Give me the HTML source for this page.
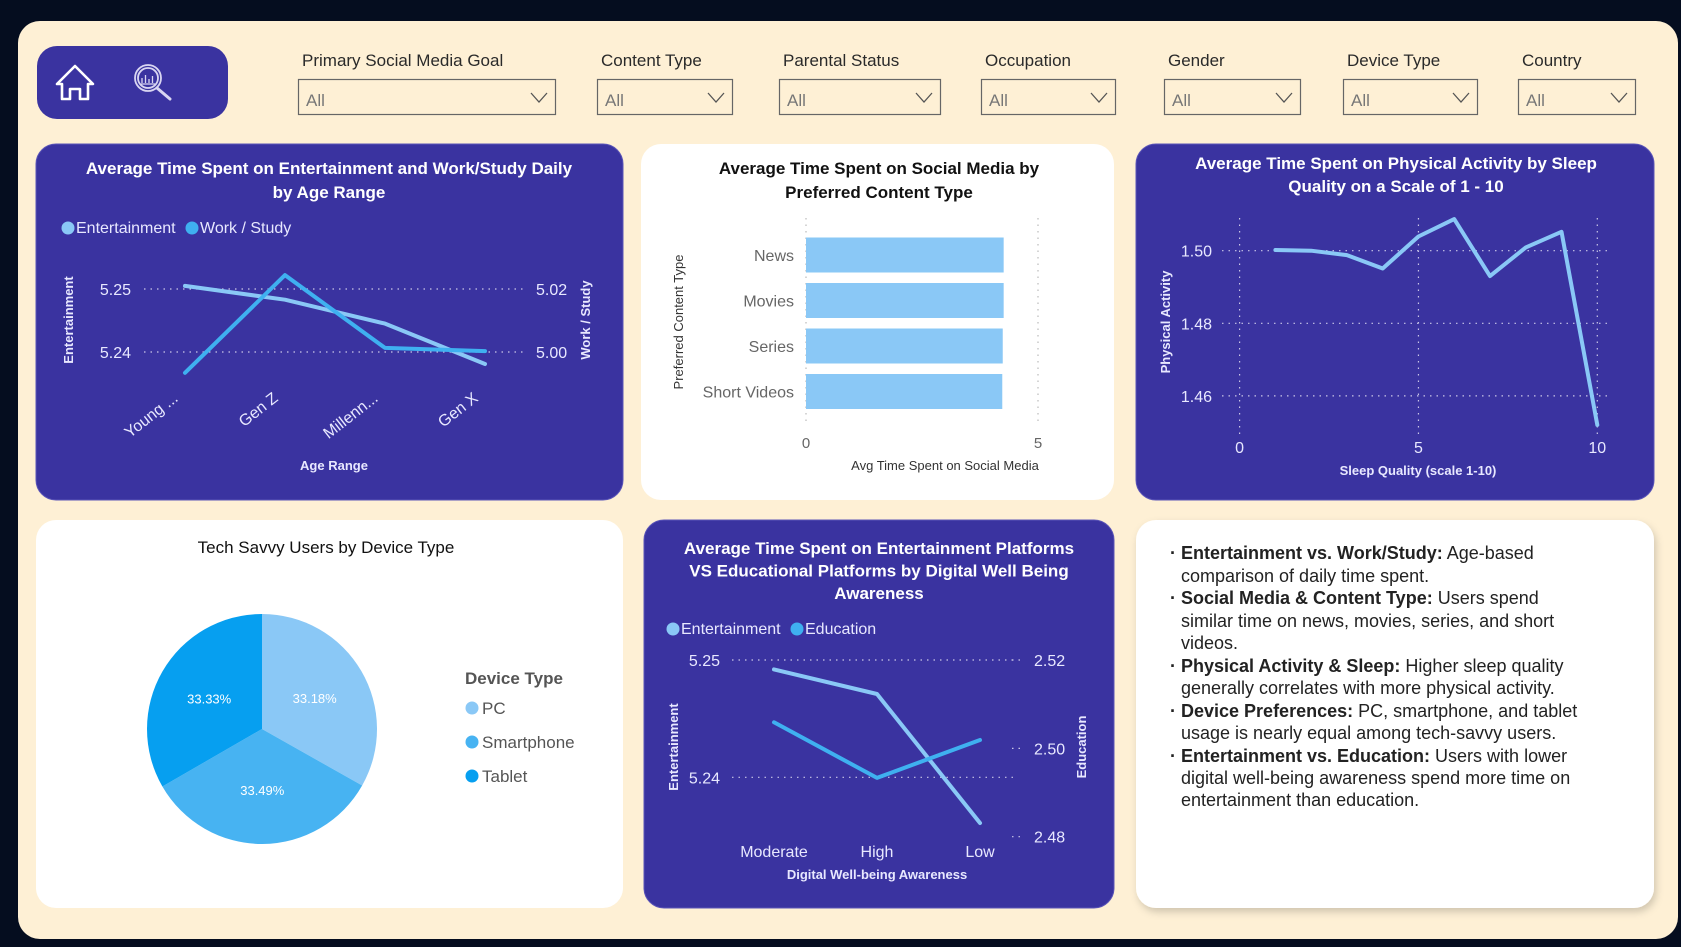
<!DOCTYPE html>
<html><head><meta charset="utf-8"><title>Social Media Dashboard</title>
<style>
html,body{margin:0;padding:0;background:#050d1f;}
body{width:1681px;height:947px;overflow:hidden;}
svg{display:block;font-family:"Liberation Sans",sans-serif;}
</style></head>
<body>
<svg id="dash" width="1681" height="947" viewBox="0 0 1681 947" xmlns="http://www.w3.org/2000/svg">
<defs>
<filter id="sh" x="-5%" y="-5%" width="110%" height="115%"><feDropShadow dx="2" dy="4" stdDeviation="4" flood-color="#000" flood-opacity="0.18"/></filter>
</defs>
<rect x="0" y="0" width="1681" height="947" fill="#050d1f"/>
<rect x="18" y="21" width="1660" height="918" rx="22" fill="#fef0d5"/>

<!-- nav -->
<g>
<rect x="37" y="46" width="191" height="73" rx="20" fill="#3a33a0"/>
<g fill="none" stroke="#fff" stroke-width="2.6" stroke-linejoin="round">
<path d="M57 84 L75 66 L93 84 L88 84 L88 99 L80 99 L80 89 L70 89 L70 99 L62 99 L62 84 Z"/>
</g>
<g fill="none" stroke="#d9d6f2" stroke-width="1.8">
<circle cx="148" cy="78" r="13"/><circle cx="148" cy="78" r="10"/>
<line x1="157" y1="88" x2="170" y2="99" stroke-width="3" stroke-linecap="round"/>
<path d="M142 83 V78 M145.5 83 V75 M149 83 V79 M152.5 83 V76 M141 84 H155" stroke-width="1.3"/>
</g>
</g>

<g id="slicers"></g>
<g id="cards"></g>
<g id="c1"></g><g id="c2"></g><g id="c3"></g><g id="c4"></g><g id="c5"></g>

<!-- insights card -->
<g>
<rect x="1136" y="520" width="518" height="388" rx="20" fill="#fff" filter="url(#sh)"/>
<g font-size="18" fill="#222">
<text x="1170" y="559" font-weight="bold">·</text>
<text x="1181" y="559"><tspan font-weight="bold">Entertainment vs. Work/Study:</tspan> Age-based</text>
<text x="1181" y="582">comparison of daily time spent.</text>
<text x="1170" y="604" font-weight="bold">·</text>
<text x="1181" y="604"><tspan font-weight="bold">Social Media &amp; Content Type:</tspan> Users spend</text>
<text x="1181" y="627">similar time on news, movies, series, and short</text>
<text x="1181" y="649">videos.</text>
<text x="1170" y="672" font-weight="bold">·</text>
<text x="1181" y="672"><tspan font-weight="bold">Physical Activity &amp; Sleep:</tspan> Higher sleep quality</text>
<text x="1181" y="694">generally correlates with more physical activity.</text>
<text x="1170" y="717" font-weight="bold">·</text>
<text x="1181" y="717"><tspan font-weight="bold">Device Preferences:</tspan> PC, smartphone, and tablet</text>
<text x="1181" y="739">usage is nearly equal among tech-savvy users.</text>
<text x="1170" y="762" font-weight="bold">·</text>
<text x="1181" y="762"><tspan font-weight="bold">Entertainment vs. Education:</tspan> Users with lower</text>
<text x="1181" y="784">digital well-being awareness spend more time on</text>
<text x="1181" y="806">entertainment than education.</text>
</g>
</g>
</svg>

<script>
// ---- data ----
var ageCats = ["Young ...", "Gen Z", "Millenn...", "Gen X"];
var ageEnt = [5.2505, 5.2483, 5.2445, 5.2381];
var ageWork = [4.9934, 5.0244, 5.0013, 5.0003];
var ageLeftTicks = [5.24, 5.25];
var ageRightTicks = [5.00, 5.02];

var contentCats = ["News", "Movies", "Series", "Short Videos"];
var contentVals = [4.26, 4.26, 4.24, 4.23];
var contentTicks = [0, 5];

var sleepX = [1, 2, 3, 4, 5, 6, 7, 8, 9, 10];
var sleepVals = [1.5002, 1.5000, 1.4988, 1.4951, 1.5039, 1.5087, 1.4930, 1.5009, 1.5052, 1.4520];
var sleepYTicks = [1.46, 1.48, 1.50];
var sleepXTicks = [0, 5, 10];

var deviceCats = ["PC", "Smartphone", "Tablet"];
var deviceVals = [33.18, 33.49, 33.33];

var dwCats = ["Moderate", "High", "Low"];
var dwEnt = [5.2492, 5.2471, 5.2361];
var dwEdu = [2.5059, 2.4933, 2.5019];
var dwLeftTicks = [5.24, 5.25];
var dwRightTicks = [2.48, 2.50, 2.52];

var slicerNames = ["Primary Social Media Goal", "Content Type", "Parental Status", "Occupation", "Gender", "Device Type", "Country"];

var NS = "http://www.w3.org/2000/svg";
function mk(tag, attrs, parent, txt) {
  var e = document.createElementNS(NS, tag);
  for (var k in attrs) e.setAttribute(k, attrs[k]);
  if (txt !== undefined) e.textContent = txt;
  parent.appendChild(e);
  return e;
}
function lin(d0, d1, r0, r1) { return function (v) { return r0 + (v - d0) / (d1 - d0) * (r1 - r0); }; }
function fmt(v, n) { return v.toFixed(n); }
var LIGHT = "#8ac8f6", MID = "#3fb0f0", DARK = "#069ff0", PURPLE = "#3a33a0";

// ---- slicers ----
var slG = document.getElementById("slicers");
var slBox = [[298, 555], [597, 732], [779, 940], [981, 1115], [1164, 1300], [1343, 1477], [1518, 1635]];
slicerNames.forEach(function (n, i) {
  var g = mk("g", {}, slG);
  
  
  var lb = mk("text", { x: slBox[i][0] + 4, y: 66, "font-size": 17, fill: "#2a2a2a" }, g, n);
  
  
  var dd = mk("g", {}, g);
  
  
  mk("rect", { x: slBox[i][0] + 0.5, y: 79.5, width: slBox[i][1] - slBox[i][0], height: 35, fill: "#fef0d5", stroke: "#666", "stroke-width": 1.2 }, dd);
  mk("text", { x: slBox[i][0] + 8, y: 106, "font-size": 17, fill: "#777" }, dd, "All");
  var cx = slBox[i][1] - 16;
  mk("path", { d: "M" + (cx - 8) + " 93 L" + cx + " 102 L" + (cx + 8) + " 93", fill: "none", stroke: "#555", "stroke-width": 1.3 }, dd);
});

// ---- cards ----
var cardsG = document.getElementById("cards");
var cards = [
  ["age-chart-card", 36, 144, 587, 356, PURPLE],
  ["content-chart-card", 641, 144, 473, 356, "#fff"],
  ["sleep-chart-card", 1136, 144, 518, 356, PURPLE],
  ["device-chart-card", 36, 520, 587, 388, "#fff"],
  ["wellbeing-chart-card", 644, 520, 470, 388, PURPLE]
];
cards.forEach(function (c) {
  var r = mk("rect", { x: c[1], y: c[2], width: c[3], height: c[4], rx: 20, fill: c[5], stroke: c[5] === PURPLE ? "#5a54b8" : "none", "stroke-width": 1 }, cardsG);
  
  
});

function title(parent, lines, cx, y0, lh, color, size) {
  var t = mk("text", { "text-anchor": "middle", fill: color, "font-size": size, "font-weight": "bold" }, parent);
  
  
  lines.forEach(function (l, i) { mk("tspan", { x: cx, y: y0 + i * lh }, t, l); });
}
function legendDot(parent, x, y, color, label, tcolor, name) {
  var g = mk("g", {}, parent);
  
  
  mk("circle", { cx: x, cy: y - 5, r: 6.5, fill: color }, g);
  mk("text", { x: x + 8, y: y, "font-size": 16, fill: tcolor }, g, label);
  return g;
}
function rotText(parent, x, y, txt, color, size, name, weight) {
  var t = mk("text", { x: 0, y: 0, transform: "translate(" + x + "," + y + ") rotate(-90)", "text-anchor": "middle", "font-size": size, fill: color, "font-weight": weight || "bold" }, parent, txt);
  
  
}
function line(parent, xs, ys, color, name, w) {
  var d = xs.map(function (x, i) { return (i ? "L" : "M") + x.toFixed(1) + " " + ys[i].toFixed(1); }).join(" ");
  var p = mk("path", { d: d, fill: "none", stroke: color, "stroke-width": w || 4, "stroke-linejoin": "round", "stroke-linecap": "round" }, parent);
  
  
}

// ---- chart 1: age ----
(function () {
  var g = document.getElementById("c1");
  title(g, ["Average Time Spent on Entertainment and Work/Study Daily", "by Age Range"], 329, 174, 24, "#fff", 17);
  legendDot(g, 68, 233, LIGHT, "Entertainment", "#e8e8ff", "legend-entertainment");
  legendDot(g, 192, 233, MID, "Work / Study", "#e8e8ff", "legend-work-study");
  var yL = lin(5.24, 5.25, 352, 289), yR = lin(5.00, 5.02, 352, 289);
  var xs = ageCats.map(function (c, i) { return 185 + i * 100; });
  ageLeftTicks.forEach(function (t) {
    mk("line", { x1: 144, x2: 525, y1: yL(t), y2: yL(t), stroke: "#c9c6e6", "stroke-width": 1.2, "stroke-dasharray": "1.5 5" }, g);
    var tx = mk("text", { x: 131, y: yL(t) + 6, "text-anchor": "end", "font-size": 16, fill: "#e8e8ff" }, g, fmt(t, 2));
    
    
  });
  ageRightTicks.forEach(function (t) {
    var tx = mk("text", { x: 536, y: yR(t) + 6, "font-size": 16, fill: "#e8e8ff" }, g, fmt(t, 2));
    
    
  });
  ageCats.forEach(function (c, i) {
    var tx = mk("text", { x: 0, y: 0, transform: "translate(" + (xs[i] - 6) + ",400) rotate(-38)", "text-anchor": "end", "font-size": 16, fill: "#e8e8ff" }, g, c);
    
    
  });
  line(g, xs, ageEnt.map(yL), LIGHT, "line-entertainment");
  line(g, xs, ageWork.map(yR), MID, "line-work-study");
  rotText(g, 73, 320, "Entertainment", "#e8e8ff", 13, "y-left-title");
  rotText(g, 590, 320, "Work / Study", "#e8e8ff", 13, "y-right-title");
  var xt = mk("text", { x: 334, y: 470, "text-anchor": "middle", "font-size": 13, "font-weight": "bold", fill: "#e8e8ff" }, g, "Age Range");
  
  
})();

// ---- chart 2: content bars ----
(function () {
  var g = document.getElementById("c2");
  title(g, ["Average Time Spent on Social Media by", "Preferred Content Type"], 879, 174, 24, "#111", 17);
  var x = lin(0, 5, 806, 1038);
  contentTicks.forEach(function (t) {
    mk("line", { x1: x(t), x2: x(t), y1: 218, y2: 425, stroke: "#bbb", "stroke-width": 1.2, "stroke-dasharray": "1.5 5" }, g);
    var tx = mk("text", { x: x(t), y: 448, "text-anchor": "middle", "font-size": 15, fill: "#666" }, g, t);
    
    
  });
  contentCats.forEach(function (c, i) {
    var cy = 255 + i * 45.5;
    var r = mk("rect", { x: x(0), y: cy - 17.5, width: x(contentVals[i]) - x(0), height: 35, fill: LIGHT }, g);
    
    
    var tx = mk("text", { x: 794, y: cy + 6, "text-anchor": "end", "font-size": 16, fill: "#666" }, g, c);
    
    
  });
  rotText(g, 683, 322, "Preferred Content Type", "#333", 13, "y-axis-title", "normal");
  var xt = mk("text", { x: 945, y: 470, "text-anchor": "middle", "font-size": 13, fill: "#333" }, g, "Avg Time Spent on Social Media");
  
  
})();

// ---- chart 3: sleep ----
(function () {
  var g = document.getElementById("c3");
  title(g, ["Average Time Spent on Physical Activity by Sleep", "Quality on a Scale of 1 - 10"], 1396, 169, 23, "#fff", 17);
  var x = lin(0, 10, 1239.6, 1597.3), y = lin(1.48, 1.50, 323.3, 250.7);
  sleepYTicks.forEach(function (t) {
    mk("line", { x1: 1222, x2: 1610, y1: y(t), y2: y(t), stroke: "#c9c6e6", "stroke-width": 1.2, "stroke-dasharray": "1.5 5" }, g);
    var tx = mk("text", { x: 1212, y: y(t) + 6, "text-anchor": "end", "font-size": 16, fill: "#e8e8ff" }, g, fmt(t, 2));
    
    
  });
  sleepXTicks.forEach(function (t) {
    mk("line", { x1: x(t), x2: x(t), y1: 218, y2: 436, stroke: "#c9c6e6", "stroke-width": 1.2, "stroke-dasharray": "1.5 5" }, g);
    var tx = mk("text", { x: x(t), y: 453, "text-anchor": "middle", "font-size": 16, fill: "#e8e8ff" }, g, t);
    
    
  });
  line(g, sleepX.map(x), sleepVals.map(y), LIGHT, "line-physical-activity");
  rotText(g, 1170, 322, "Physical Activity", "#e8e8ff", 13, "y-axis-title");
  var xt = mk("text", { x: 1418, y: 475, "text-anchor": "middle", "font-size": 13, "font-weight": "bold", fill: "#e8e8ff" }, g, "Sleep Quality (scale 1-10)");
  
  
})();

// ---- chart 4: pie ----
(function () {
  var g = document.getElementById("c4");
  var t = mk("text", { x: 326, y: 553, "text-anchor": "middle", "font-size": 17, fill: "#111" }, g, "Tech Savvy Users by Device Type");
  
  
  var cx = 262, cy = 729, R = 115, colors = [LIGHT, "#47b3f2", DARK];
  var total = deviceVals.reduce(function (a, b) { return a + b; }, 0), a0 = -Math.PI / 2;
  deviceVals.forEach(function (v, i) {
    var a1 = a0 + v / total * 2 * Math.PI;
    var d = "M" + cx + " " + cy + " L" + (cx + R * Math.cos(a0)) + " " + (cy + R * Math.sin(a0)) +
      " A" + R + " " + R + " 0 " + (a1 - a0 > Math.PI ? 1 : 0) + " 1 " + (cx + R * Math.cos(a1)) + " " + (cy + R * Math.sin(a1)) + " Z";
    var p = mk("path", { d: d, fill: colors[i] }, g);
    
    
    var am = (a0 + a1) / 2;
    var lb = mk("text", { x: cx + 61 * Math.cos(am), y: cy + 61 * Math.sin(am) + 5, "text-anchor": "middle", "font-size": 13, fill: "#fff" }, g, fmt(v, 2) + "%");
    
    
    a0 = a1;
  });
  var lt = mk("text", { x: 465, y: 684, "font-size": 17, "font-weight": "bold", fill: "#555" }, g, "Device Type");
  
  
  deviceCats.forEach(function (c, i) {
    var lg = mk("g", {}, g);
    
    
    mk("circle", { cx: 472, cy: 708 + i * 34, r: 6.5, fill: colors[i] }, lg);
    mk("text", { x: 482, y: 714 + i * 34, "font-size": 17, fill: "#555" }, lg, c);
  });
})();

// ---- chart 5: wellbeing ----
(function () {
  var g = document.getElementById("c5");
  title(g, ["Average Time Spent on Entertainment Platforms", "VS Educational Platforms by Digital Well Being", "Awareness"], 879, 554, 22.5, "#fff", 17);
  legendDot(g, 673, 634, LIGHT, "Entertainment", "#e8e8ff", "legend-entertainment");
  legendDot(g, 797, 634, MID, "Education", "#e8e8ff", "legend-education");
  var yL = lin(5.24, 5.25, 777.3, 660), yR = lin(2.48, 2.52, 836.7, 660);
  var xs = dwCats.map(function (c, i) { return 774 + i * 103; });
  dwLeftTicks.forEach(function (t) {
    mk("line", { x1: 732, x2: 1018, y1: yL(t), y2: yL(t), stroke: "#c9c6e6", "stroke-width": 1.2, "stroke-dasharray": "1.5 5" }, g);
    var tx = mk("text", { x: 720, y: yL(t) + 6, "text-anchor": "end", "font-size": 16, fill: "#e8e8ff" }, g, fmt(t, 2));
    
    
  });
  dwRightTicks.forEach(function (t) {
    mk("line", { x1: 1012, x2: 1022, y1: yR(t), y2: yR(t), stroke: "#c9c6e6", "stroke-width": 1.2, "stroke-dasharray": "1.5 5" }, g);
    var tx = mk("text", { x: 1034, y: yR(t) + 6, "font-size": 16, fill: "#e8e8ff" }, g, fmt(t, 2));
    
    
  });
  dwCats.forEach(function (c, i) {
    var tx = mk("text", { x: xs[i], y: 857, "text-anchor": "middle", "font-size": 16, fill: "#e8e8ff" }, g, c);
    
    
  });
  line(g, xs, dwEnt.map(yL), LIGHT, "line-entertainment");
  line(g, xs, dwEdu.map(yR), MID, "line-education");
  rotText(g, 678, 747, "Entertainment", "#e8e8ff", 13, "y-left-title");
  rotText(g, 1086, 747, "Education", "#e8e8ff", 13, "y-right-title");
  var xt = mk("text", { x: 877, y: 879, "text-anchor": "middle", "font-size": 13, "font-weight": "bold", fill: "#e8e8ff" }, g, "Digital Well-being Awareness");
  
  
})();
</script>
</body></html>
